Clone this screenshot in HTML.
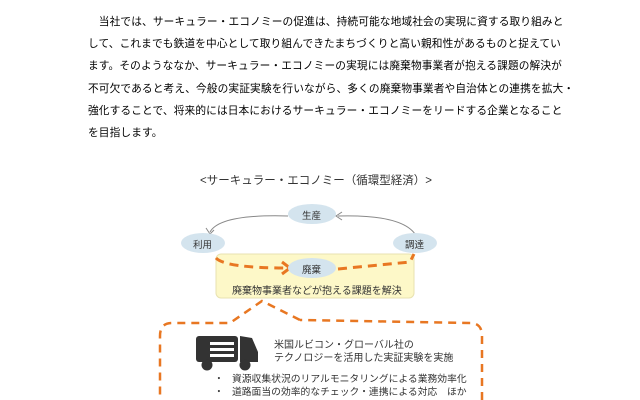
<!DOCTYPE html>
<html><head><meta charset="utf-8"><style>
body{margin:0;width:640px;height:400px;background:#fff;overflow:hidden;position:relative;font-family:"Liberation Sans","Noto Sans CJK JP",sans-serif;color:#111}
.p{position:absolute;left:88px;top:11px;font-size:10.7px;line-height:22.2px;white-space:nowrap;letter-spacing:0.12px;color:#000}
.t{position:absolute;white-space:nowrap;font-size:11px;color:#333}
</style></head><body>
<div class="p">　当社では、サーキュラー・エコノミーの促進は、持続可能な地域社会の実現に資する取り組みと<br>して、これまでも鉄道を中心として取り組んできたまちづくりと高い親和性があるものと捉えてい<br>ます。そのようななか、サーキュラー・エコノミーの実現には廃棄物事業者が抱える課題の解決が<br>不可欠であると考え、今般の実証実験を行いながら、多くの廃棄物事業者や自治体との連携を拡大・<br>強化することで、将来的には日本におけるサーキュラー・エコノミーをリードする企業となること<br>を目指します。</div>
<svg width="640" height="400" style="position:absolute;left:0;top:0">
<rect x="216" y="254" width="198" height="44" rx="5" fill="#fdf8c8" stroke="#e8e2b0"/>
<path d="M418 240 Q410 214 338 216" fill="none" stroke="#888" stroke-width="1"/>
<path d="M342 212 L336 216 L342 220" fill="none" stroke="#888"/>
<path d="M288 216 Q220 214 210 232" fill="none" stroke="#888"/>
<path d="M206 228 L210 234 L214 230" fill="none" stroke="#888"/>
<path d="M216 258 Q225 268 288 268" fill="none" stroke="#e87722" stroke-width="3" stroke-dasharray="9,6"/>
<path d="M282 262 L290 268 L282 274" fill="none" stroke="#e87722" stroke-width="3"/>
<path d="M338 269 L410 262 L414 254" fill="none" stroke="#e87722" stroke-width="3" stroke-dasharray="9,6"/>
<ellipse cx="312" cy="214" rx="24" ry="10" fill="#d4e4ee"/>
<ellipse cx="203" cy="243" rx="22" ry="10" fill="#d4e4ee"/>
<ellipse cx="415" cy="243" rx="22" ry="10" fill="#d4e4ee"/>
<ellipse cx="312" cy="268" rx="24" ry="10" fill="#d4e4ee"/>
<path d="M300 320 L262 301 L230 323 L172 323 Q160 323 160 336 L160 400 M482 400 L482 336 Q482 323 470 323 L300 320" fill="none" stroke="#e87722" stroke-width="2.5" stroke-dasharray="8,6"/>
<g fill="#333">
<rect x="196" y="336" width="42" height="26" rx="3"/>
<path d="M240 336 L252 338 L258 352 L258 362 L240 362Z"/>
<circle cx="207" cy="365" r="5.5"/><circle cx="245" cy="365" r="5.5"/>
</g>
<g fill="#fff"><rect x="210" y="342" width="24" height="3"/><rect x="210" y="348" width="24" height="3"/><rect x="210" y="354" width="24" height="3"/></g>
</svg>
<div class="t" style="left:200px;top:172px;font-size:11.5px">&lt;サーキュラー・エコノミー（循環型経済）&gt;</div>
<div class="t" style="left:302px;top:208px;font-size:9.5px">生産</div>
<div class="t" style="left:193px;top:237px;font-size:9.5px">利用</div>
<div class="t" style="left:405px;top:237px;font-size:9.5px">調達</div>
<div class="t" style="left:302px;top:262px;font-size:9.5px">廃棄</div>
<div class="t" style="left:232px;top:282px;font-size:10px">廃棄物事業者などが抱える課題を解決</div>
<div class="t" style="left:274px;top:339px;font-size:10px;line-height:13px">米国ルビコン・グローバル社の<br>テクノロジーを活用した実証実験を実施</div>
<div class="t" style="left:214px;top:373px;font-size:9.8px;line-height:13px">・&nbsp;&nbsp;&nbsp;資源収集状況のリアルモニタリングによる業務効率化<br>・&nbsp;&nbsp;&nbsp;道路面当の効率的なチェック・連携による対応　ほか</div>
</body></html>
